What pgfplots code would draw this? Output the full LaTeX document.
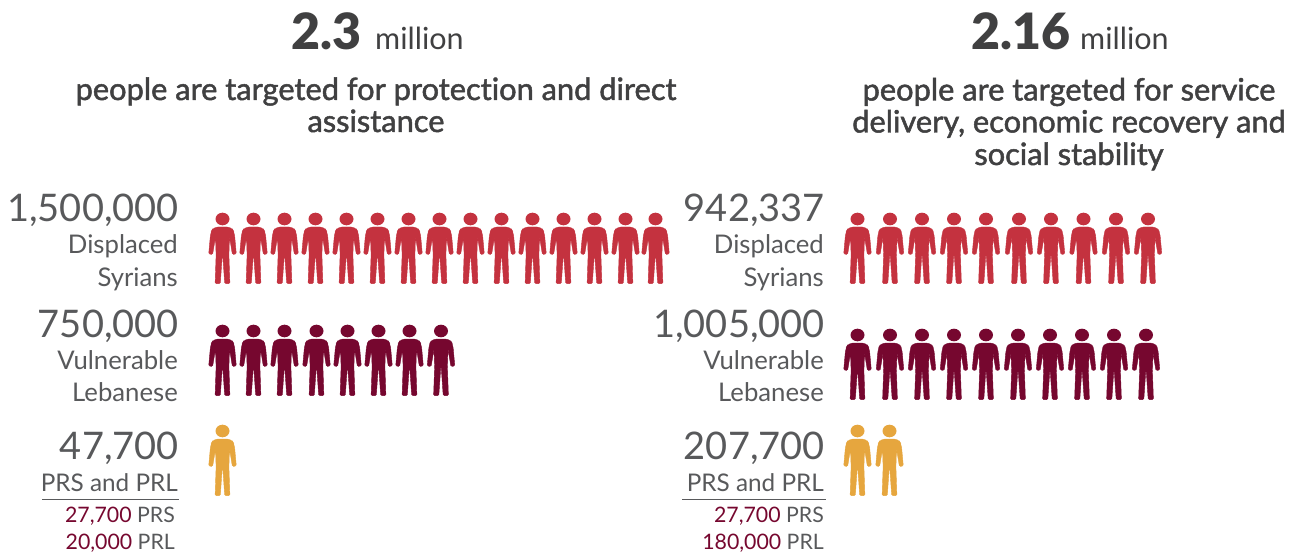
\documentclass[border=0pt]{standalone}
\usepackage{pgfplots}
\pgfplotsset{compat=1.18}
\usepackage{fontspec}
\setmainfont{Lato}[Ligatures=NoCommon]
\newfontface\subfont{Lato}[FakeBold=1.6,Ligatures=NoCommon]
\newfontface\numfont{Lato Black}
\definecolor{cred}{HTML}{C4323F}
\definecolor{cmar}{HTML}{76072F}
\definecolor{cgold}{HTML}{E6A63E}
\definecolor{ctxt}{HTML}{58595B}
\definecolor{ctitle}{HTML}{404041}
\pgfdeclareplotmark{person}{%
  \pgfpathellipse{\pgfpoint{0pt}{65pt}}{\pgfpoint{7pt}{0pt}}{\pgfpoint{0pt}{6.3pt}}%
  \pgfusepathqfill
  \fill[rounded corners=1.6pt] (-3pt,57pt) -- (3pt,57pt) [rounded corners=4pt] -- (8.5pt,57pt) -- (11.8pt,52pt)
    [rounded corners=1.2pt] -- (13.8pt,30pt) -- (9.9pt,29.5pt) [rounded corners=0.2pt] -- (7pt,47pt) -- (6.4pt,29pt) [rounded corners=1.2pt] -- (7.4pt,0.4pt) -- (2.2pt,0.4pt)
    [rounded corners=0.3pt] -- (0.25pt,28.5pt) -- (-0.25pt,28.5pt)
    [rounded corners=1.2pt] -- (-2.2pt,0.4pt) -- (-7.4pt,0.4pt) [rounded corners=0.2pt] -- (-6.4pt,29pt) -- (-7pt,47pt) [rounded corners=1.2pt] -- (-9.9pt,29.5pt) -- (-13.8pt,30pt)
    [rounded corners=4pt] -- (-11.8pt,52pt) -- (-8.5pt,57pt) [rounded corners=1.6pt] -- cycle;
}
\newcommand{\lab}[5]{\node[anchor=base east,inner sep=0pt,text=#4,font=\fontsize{#3}{#3}\selectfont] at (axis cs:#1,#2) {#5};}
\newcommand{\ctr}[3]{\node[anchor=base,inner sep=0pt,text=ctitle,font=\fontsize{30.8}{30.8}\subfont] at (axis cs:#1,#2) {#3};}
\begin{document}
\begin{tikzpicture}
\useasboundingbox (0,0) rectangle (1300pt,553pt);
\begin{axis}[at={(0,0)},anchor=south west,scale only axis,width=1300pt,height=553pt,
  xmin=0,xmax=1300,ymin=0,ymax=553,y dir=reverse,hide axis,clip=false]
% left block
\addplot[only marks,mark=person,color=cred] coordinates {(222.5,284)(253.5,284)(284.5,284)(315.5,284)(346.5,284)(377.5,284)(408.5,284)(439.5,284)(470.5,284)(501.5,284)(532.5,284)(563.5,284)(594.5,284)(625.5,284)(655.5,284)};
\addplot[only marks,mark=person,color=cmar] coordinates {(222.5,396)(253.5,396)(284.5,396)(316.5,396)(347.5,396)(378.5,396)(409.5,396)(441,396)};
\addplot[only marks,mark=person,color=cgold] coordinates {(222.5,496)};
% right block
\addplot[only marks,mark=person,color=cred] coordinates {(857.5,284)(890,284)(922,284)(954,284)(986,284)(1019,284)(1051,284)(1083.5,284)(1116,284)(1148,284)};
\addplot[only marks,mark=person,color=cmar] coordinates {(857.5,400)(890,400)(922,400)(954,400)(986,400)(1018,400)(1050,400)(1082,400)(1114,400)(1146,400)};
\addplot[only marks,mark=person,color=cgold] coordinates {(857.5,496)(889.5,496)};
% titles
\node[anchor=base west,inner sep=0pt,text=ctitle,font=\fontsize{50}{50}\numfont] at (axis cs:291,50) {2.3};
\node[anchor=base west,inner sep=0pt,text=ctitle,font=\fontsize{30.5}{30.5}\selectfont] at (axis cs:375,50) {million};
\node[anchor=base west,inner sep=0pt,text=ctitle,font=\fontsize{50}{50}\numfont] at (axis cs:971,50) {2.16};
\node[anchor=base west,inner sep=0pt,text=ctitle,font=\fontsize{30.5}{30.5}\selectfont] at (axis cs:1080,50) {million};
\ctr{376}{100}{people are targeted for protection and direct}
\ctr{376}{132}{assistance}
\ctr{1069}{100.5}{people are targeted for service}
\ctr{1069}{132.5}{delivery, economic recovery and}
\ctr{1069}{165}{social stability}
% left labels
\lab{179}{222}{38}{ctxt}{1,500,000}
\lab{178}{254}{25.7}{ctxt}{Displaced}
\lab{178}{287}{25.7}{ctxt}{Syrians}
\lab{179}{337}{38}{ctxt}{750,000}
\lab{178}{369}{25.7}{ctxt}{Vulnerable}
\lab{178}{401}{25.7}{ctxt}{Lebanese}
\lab{179}{459}{38}{ctxt}{47,700}
\lab{178}{491}{24.3}{ctxt}{PRS and PRL}
\draw[color=ctxt,line width=0.8pt] (axis cs:42,499.5) -- (axis cs:178.5,499.5);
\lab{175}{522}{21.3}{ctxt}{\textcolor{cmar}{27,700} PRS}
\lab{175}{549.5}{21.3}{ctxt}{\textcolor{cmar}{20,000} PRL}
% right labels
\lab{825}{222}{38}{ctxt}{942,337}
\lab{824}{254}{25.7}{ctxt}{Displaced}
\lab{824}{287}{25.7}{ctxt}{Syrians}
\lab{825}{337}{38}{ctxt}{1,005,000}
\lab{824}{369}{25.7}{ctxt}{Vulnerable}
\lab{824}{401}{25.7}{ctxt}{Lebanese}
\lab{825}{459}{38}{ctxt}{207,700}
\lab{824}{491}{24.3}{ctxt}{PRS and PRL}
\draw[color=ctxt,line width=0.8pt] (axis cs:682,499.5) -- (axis cs:826,499.5);
\lab{824}{522}{21.3}{ctxt}{\textcolor{cmar}{27,700} PRS}
\lab{824}{549.5}{21.3}{ctxt}{\textcolor{cmar}{180,000} PRL}
\end{axis}
\end{tikzpicture}
\end{document}
